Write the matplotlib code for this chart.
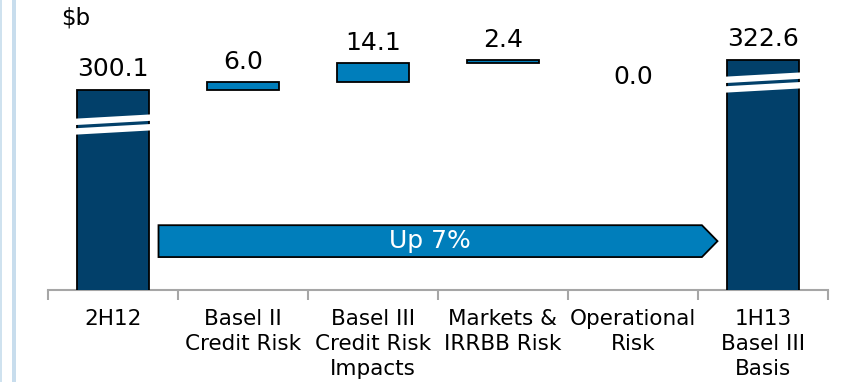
import matplotlib
matplotlib.use('Agg')
import matplotlib.pyplot as plt
from matplotlib.patches import Polygon, Rectangle
import matplotlib.transforms as mtransforms

# RWA walk, $b
categories = ['2H12', 'Basel II\nCredit Risk', 'Basel III\nCredit Risk\nImpacts',
              'Markets &\nIRRBB Risk', 'Operational\nRisk', '1H13\nBasel III\nBasis']
start_total = 300.1
steps = [6.0, 14.1, 2.4, 0.0]
end_total = 322.6

dark = '#02406A'
blue = '#007EBB'
axis_grey = '#A6A6A6'

plt.rcParams['font.family'] = ['DejaVu Sans']

fig = plt.figure(figsize=(8.45, 3.82), dpi=100)
ax = fig.add_axes([48 / 845, 92 / 382, 780 / 845, 270 / 382])
ax.set_xlim(-0.5, 5.5)
ax.set_ylim(150, 352.5)

w = 0.56
x = list(range(len(categories)))

# totals (axis is broken, bars start below the visible range)
totals = [(x[0], start_total), (x[-1], end_total)]
for xi, val in totals:
    ax.bar(xi, val, width=w, color=dark, edgecolor='black', linewidth=1.3, zorder=3)

# increments floating on the running total
level = start_total
step_tops = []
for xi, val in zip(x[1:-1], steps):
    if val > 0:
        ax.bar(xi, val, bottom=level, width=w, color=blue, edgecolor='black', linewidth=1.3, zorder=3)
    level += val
    step_tops.append(level)

# axis break marks on the two totals
break_depth = [26, 17]
for (xi, val), d in zip(totals, break_depth):
    yc = val - d
    for dy in (3.6, -3.6):
        ax.plot([xi - w / 2 - 0.03, xi + w / 2 + 0.03], [yc + dy - 1.7, yc + dy + 1.7],
                color='white', lw=4.6, solid_capstyle='butt', zorder=4)

# value labels
lbl = dict(ha='center', va='bottom', fontsize=18, textcoords='offset pixels')
ax.annotate('%.1f' % start_total, (x[0], start_total), xytext=(0, 9), **lbl)
ax.annotate('%.1f' % end_total, (x[-1], end_total), xytext=(0, 9), **lbl)
for xi, val, top in zip(x[1:-1], steps, step_tops):
    if val > 0:
        ax.annotate('%.1f' % val, (xi, top), xytext=(0, 8), **lbl)
    else:
        ax.annotate('%.1f' % val, (xi, top), xytext=(0, -29), **lbl)

# growth arrow between the totals
pct = (end_total / start_total - 1) * 100
trans = mtransforms.blended_transform_factory(ax.transData, ax.transAxes)
x0 = x[0] + w / 2 + 0.07
x1 = x[-1] - w / 2 - 0.19
tip = x[-1] - w / 2 - 0.07
yc, hh = 0.181, 0.059
arrow = Polygon([(x0, yc - hh), (x1, yc - hh), (tip, yc), (x1, yc + hh), (x0, yc + hh)],
                closed=True, facecolor=blue, edgecolor='black', linewidth=1.3,
                transform=trans, zorder=3)
ax.add_patch(arrow)
ax.text((x0 + x1) / 2, yc, 'Up %d%%' % round(pct), transform=trans, ha='center', va='center',
        color='white', fontsize=18, zorder=5)

# axis styling
for s in ['top', 'right', 'left']:
    ax.spines[s].set_visible(False)
ax.spines['bottom'].set_color(axis_grey)
ax.spines['bottom'].set_linewidth(1.5)
ax.set_yticks([])
ax.set_xticks(x)
ax.set_xticklabels(categories, fontsize=15.5, linespacing=1.3)
ax.set_xticks([i - 0.5 for i in range(len(categories) + 1)], minor=True)
ax.tick_params(axis='x', which='major', length=0, pad=14)
ax.tick_params(axis='x', which='minor', length=7, width=1.5, color=axis_grey)

fig.text(61 / 845, 1 - 18 / 382, '$b', fontsize=16.5, va='center', ha='left')

# side rules
fig.add_artist(Rectangle((0, 0), 2 / 845, 1, transform=fig.transFigure, color='#CFE2EF', lw=0))
fig.add_artist(Rectangle((12 / 845, 0), 4 / 845, 1, transform=fig.transFigure, color='#C8DDED', lw=0))

fig.savefig('out.png', dpi=100)
